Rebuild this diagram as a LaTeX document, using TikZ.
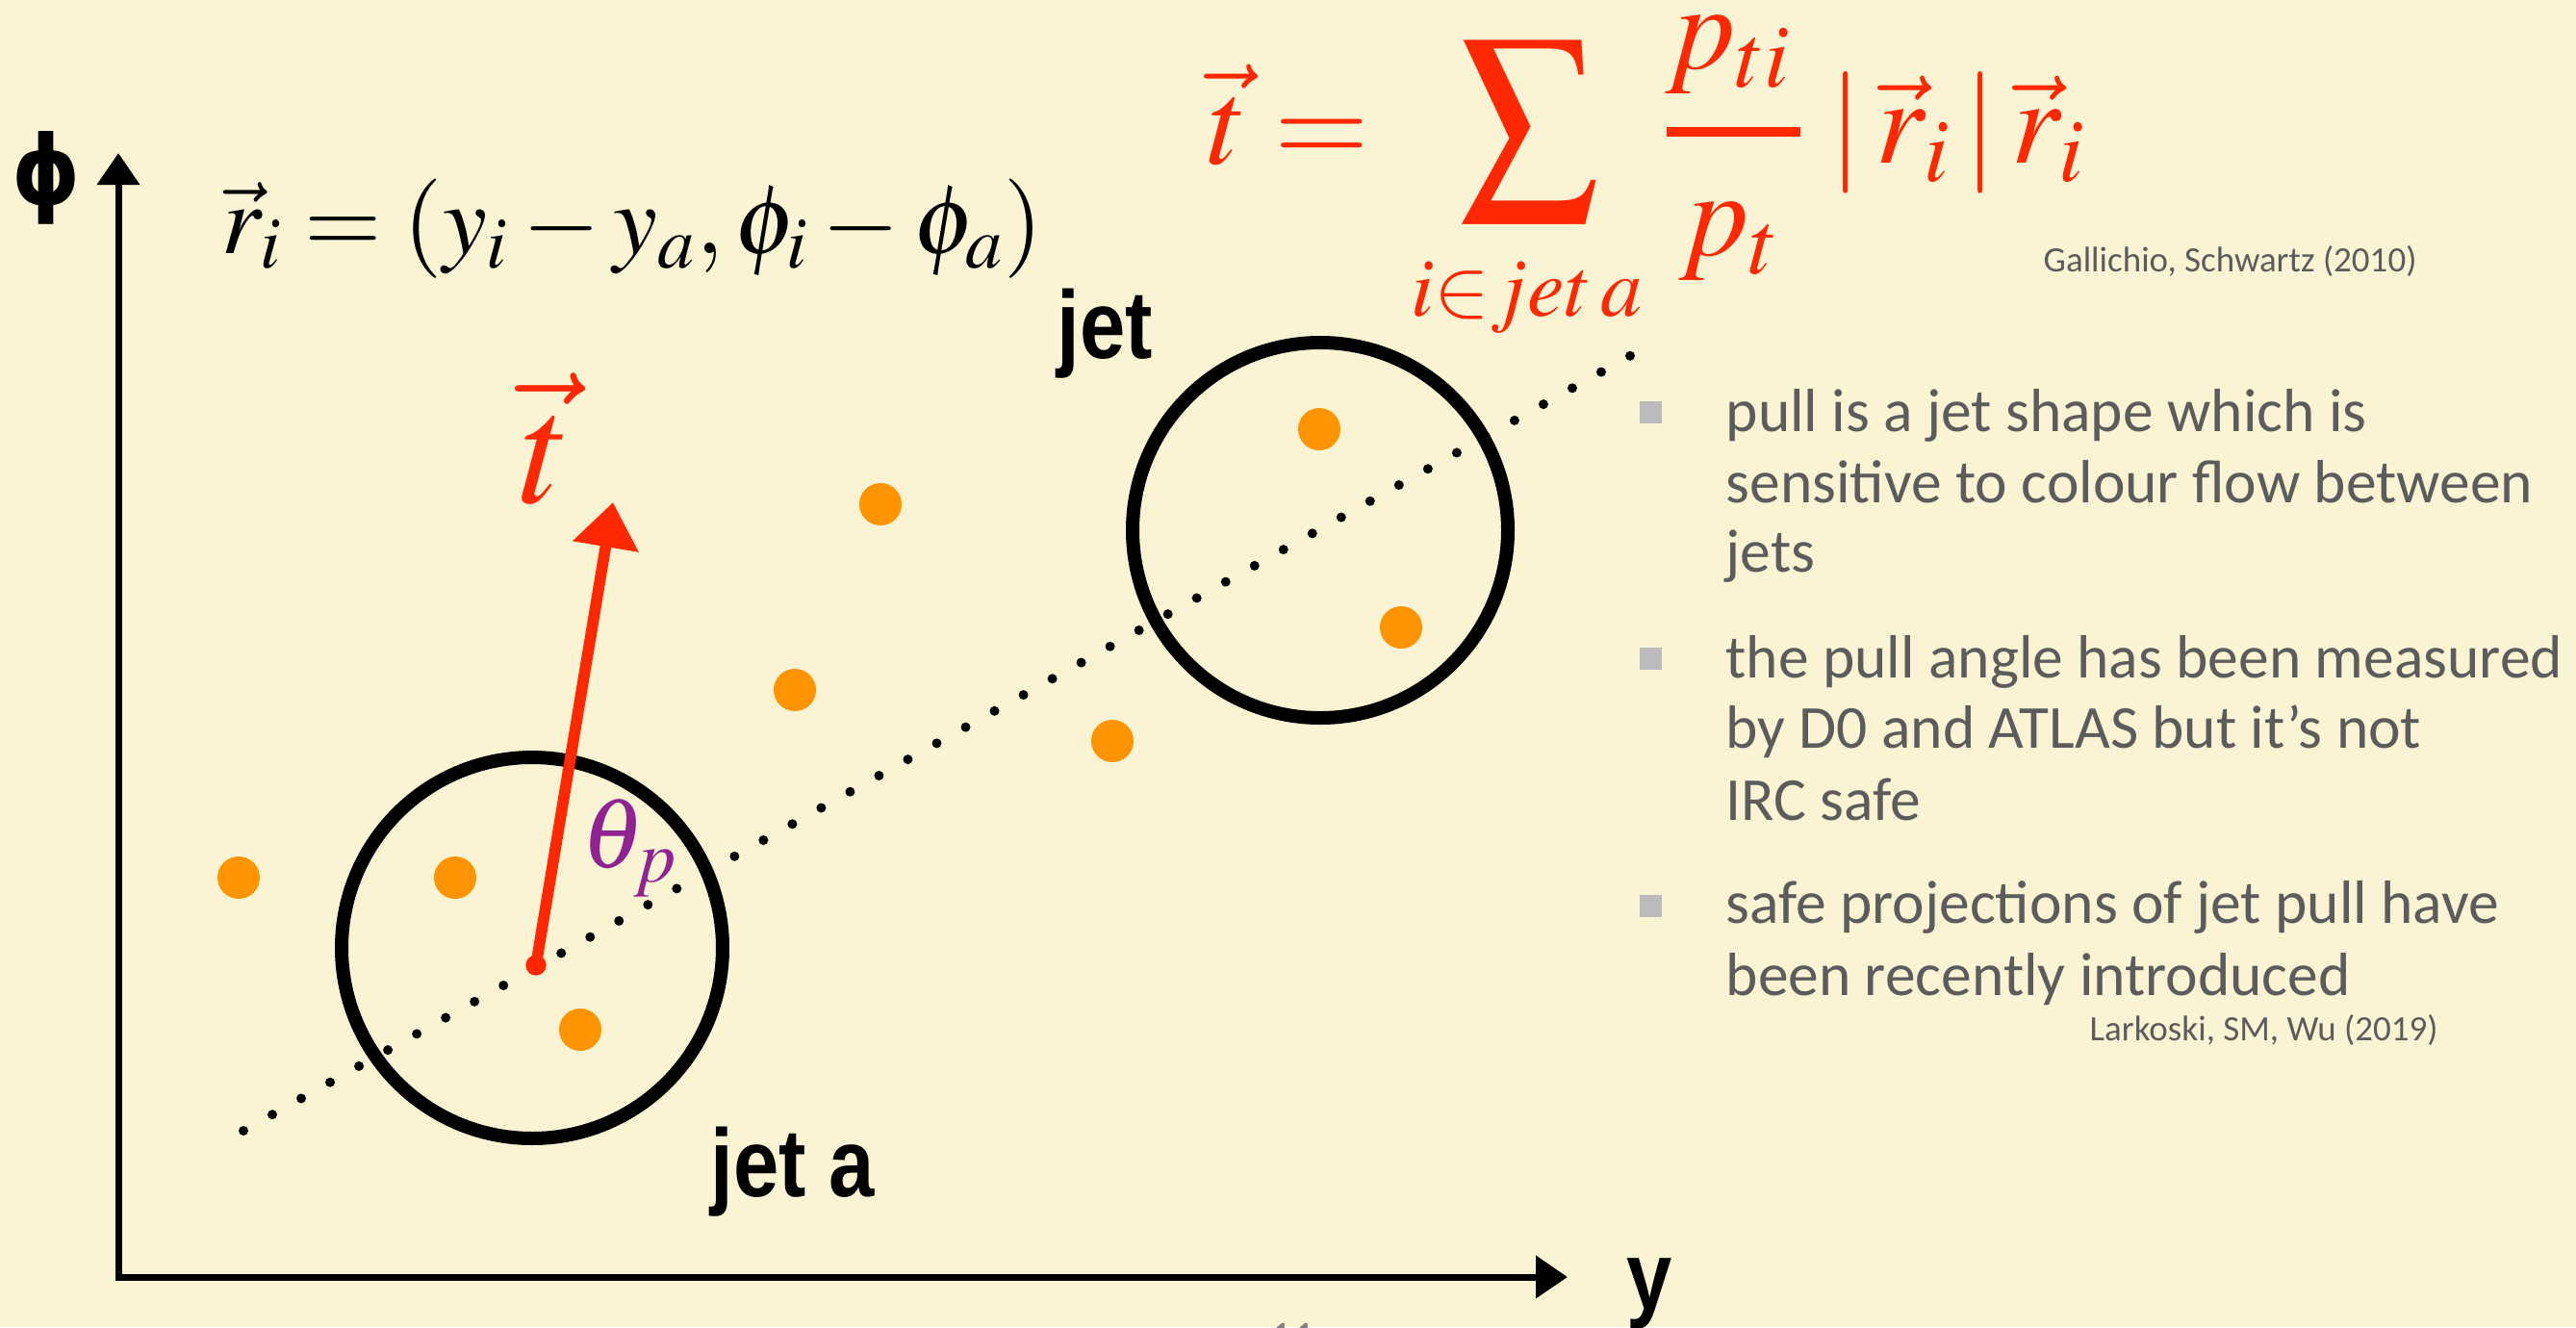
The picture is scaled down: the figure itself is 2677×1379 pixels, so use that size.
\documentclass[tikz,border=0pt]{standalone}
\usepackage{mathptmx}
\usepackage{fontspec}
\usepackage{graphicx}
\usetikzlibrary{arrows.meta}
\newfontfamily\bodyfont{Carlito}
\newfontfamily\labelfont[FakeStretch=0.85]{Liberation Sans}
\newfontfamily\phifont[FakeStretch=0.9]{DejaVu Sans}
\definecolor{bgC}{RGB}{250,243,212}
\definecolor{redC}{RGB}{255,40,0}
\definecolor{purpC}{RGB}{142,35,145}
\definecolor{orangeC}{RGB}{255,147,0}
\definecolor{grayT}{RGB}{92,92,92}
\definecolor{bulletC}{RGB}{187,187,187}
\begin{document}
\begin{tikzpicture}[x=0.3pt,y=-0.3pt,
  axisline/.style={line width=2.1pt,{Triangle[width=12.9pt,length=9.9pt]}-{Triangle[width=12.9pt,length=9.9pt]}},
  jetcirc/.style={circle,draw=black,line width=4.2pt,inner sep=0pt},
  particle/.style={circle,fill=orangeC,minimum size=13.2pt,inner sep=0pt},
  dotline/.style={line width=3pt,line cap=round,dash pattern=on 0pt off 10.317pt},
  pullarrow/.style={draw=redC,line width=3.5pt,-{Triangle[width=20pt,length=14pt]}},
  bodytxt/.style={anchor=base west,inner sep=0pt,text=grayT,font=\bodyfont\fontsize{19.05}{23}\selectfont},
  smalltxt/.style={anchor=base west,inner sep=0pt,text=grayT,font=\bodyfont\fontsize{11.1}{13}\selectfont},
  bulletsq/.style={fill=bulletC,minimum size=6.9pt,inner sep=0pt},
  biglabel/.style={anchor=base west,inner sep=0pt,font=\labelfont\bfseries\fontsize{30}{36}\selectfont},
  formula/.style={anchor=base west,inner sep=0pt,text=redC,font=\fontsize{38}{40}\selectfont}]
\fill[bgC] (0,0) rectangle (2677,1379);
\useasboundingbox (0,0) rectangle (2677,1379);

% axes
\coordinate (O) at (123,1327);
\coordinate (Ytip) at (123,159);
\coordinate (Xtip) at (1629,1327);
\draw[axisline] (Ytip) -- (O) -- (Xtip);
\node[anchor=base west,inner sep=0pt,font=\phifont\bfseries\fontsize{30}{36}\selectfont] (philab) at (12,212) {ɸ};
\node[biglabel] (ylab) at (1690,1360) {y};

% dotted line through jet axes
\coordinate (d1) at (253,1175);
\coordinate (d2) at (1724,353);
\draw[dotline] (d1) -- (d2);

% jets
\node[jetcirc,minimum size=118.8pt] (jetA) at (553,985) {};
\node[jetcirc,minimum size=117pt] (jetB) at (1372,551) {};
\node[biglabel] (jetAlab) at (738,1243) {jet a};
\node[biglabel] (jetBlab) at (1098,372) {jet};

% particles
\node[particle] (p1) at (248,912) {};
\node[particle] (p2) at (473,912) {};
\node[particle] (p3) at (603,1070) {};
\node[particle] (p4) at (826,717) {};
\node[particle] (p5) at (915,524) {};
\node[particle] (p6) at (1156,770) {};
\node[particle] (p7) at (1371,446) {};
\node[particle] (p8) at (1456,652) {};

% pull vector
\coordinate (pstart) at (557,1003);
\coordinate (tTip) at (637,522);
\fill[redC] (pstart) circle (3.2pt);
\draw[pullarrow] (pstart) -- (tTip);
\node[anchor=base west,inner sep=0pt,text=redC,font=\fontsize{49.5}{52}\selectfont] (tlab) at (540,522) {$\vec t$};
\node[anchor=base west,inner sep=0pt,text=purpC,font=\fontsize{31}{34}\selectfont] (theta) at (604,901) {$\theta_p$};

% r_i definition
\node[anchor=base west,inner sep=0pt,font=\fontsize{31}{34}\selectfont] (req) at (230,263) {$\vec r_i = (y_i - y_a, \phi_i - \phi_a)$};

% pull formula
\node[formula] (tvec) at (1255,170) {$\vec t =$};
\node[text=redC,inner sep=0pt] (sigma) at (1589,136) {\resizebox*{43.8pt}{56.4pt}{$\displaystyle\sum$}};
\node[anchor=base west,inner sep=0pt,text=redC,font=\fontsize{26}{28}\selectfont] (lim) at (1466,328) {$i{\in}jet\,a$};
\node[formula] (num) at (1730,71) {$p_{ti}$};
\coordinate (barL) at (1732,137);
\coordinate (barR) at (1871,137);
\draw[redC,line width=3pt] (barL) -- (barR);
\node[formula] (den) at (1744,265) {$p_t$};
\node[formula] (rr) at (1900,169) {$|\,\vec r_i\,|\,\vec r_i$};
\node[smalltxt] (ref1) at (2123,282) {Gallichio, Schwartz (2010)};

% bullets
\node[bulletsq] (b1) at (1715,428) {};
\node[bulletsq] (b2) at (1715,684) {};
\node[bulletsq] (b3) at (1715,941) {};
\node[bodytxt] (l1) at (1793,448) {pull is a jet shape which is};
\node[bodytxt] (l2) at (1793,522) {sensitive to colour flow between};
\node[bodytxt] (l3) at (1793,594) {jets};
\node[bodytxt] (l4) at (1793,704) {the pull angle has been measured};
\node[bodytxt] (l5) at (1793,777) {by D0 and ATLAS but it’s not};
\node[bodytxt] (l6) at (1793,852) {IRC safe};
\node[bodytxt] (l7) at (1793,959) {safe projections of jet pull have};
\node[bodytxt] (l8) at (1793,1034) {been recently introduced};
\node[smalltxt] (ref2) at (2171,1081) {Larkoski, SM, Wu (2019)};

% page number (cut off)
\node[anchor=base,inner sep=0pt,text=gray,font=\bodyfont\fontsize{14}{16}\selectfont] (pagenum) at (1343,1405) {11};
\end{tikzpicture}
\end{document}
